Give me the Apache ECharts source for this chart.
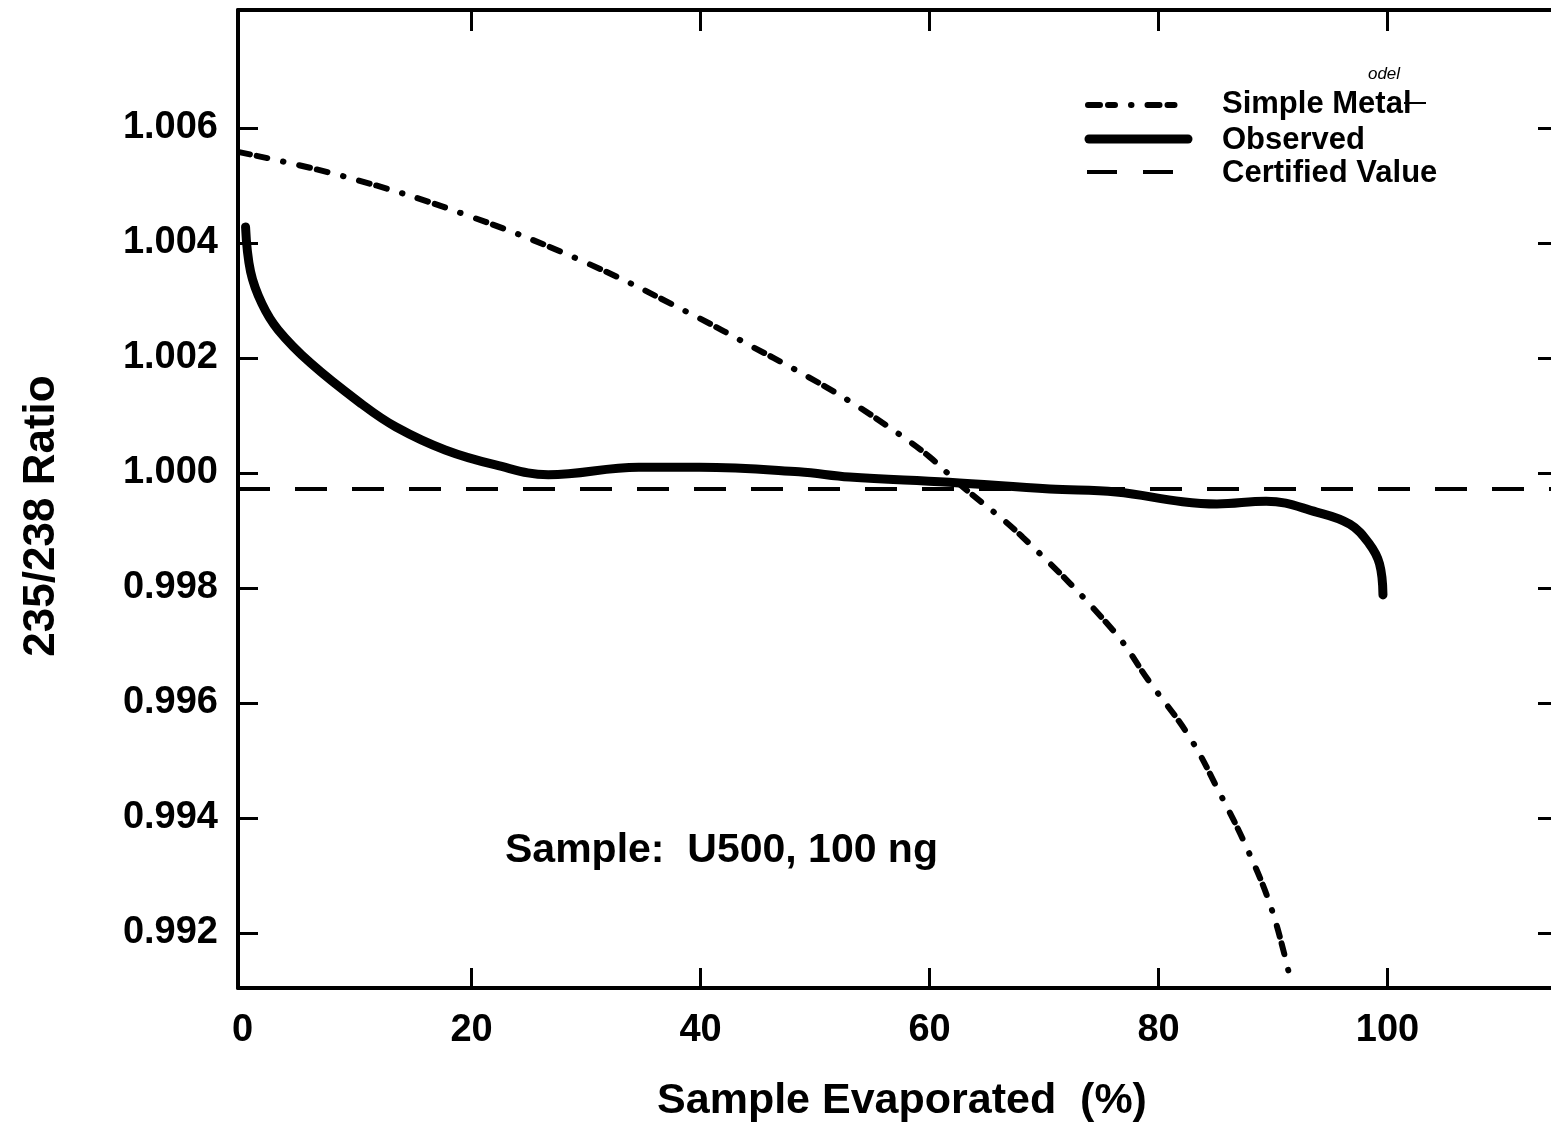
<!DOCTYPE html>
<html>
<head>
<meta charset="utf-8">
<script src="https://cdn.jsdelivr.net/npm/echarts@6/dist/echarts.min.js"></script>
<style>
html,body{margin:0;padding:0;background:#fff;overflow:hidden;}
#chart{width:1551px;height:1131px;}
</style>
</head>
<body>
<div id="chart"></div>
<script>
// ---- data ----
const xTicks = [0, 20, 40, 60, 80, 100];
const yTicks = [0.992, 0.994, 0.996, 0.998, 1.000, 1.002, 1.004, 1.006];

const simpleModelX = [-0.3, 9.0, 19.5, 30.2, 39.9, 44.2, 48.6, 53.0, 57.3, 60.0, 62.6, 68.1, 76.0, 79.2, 82.7, 85.3, 87.8, 89.9, 91.4];
const simpleModelY = [1.00558, 1.00515, 1.00449, 1.00364, 1.00269, 1.00223, 1.00176, 1.00125, 1.00068, 1.00028, 0.99981, 0.99889, 0.99727, 0.99637, 0.99541, 0.99445, 0.99344, 0.99240, 0.99129];

const observedX = [0.26, 0.7, 1.7, 3.1, 6.0, 10.4, 13.4, 17.7, 22.1, 26.7, 34.6, 39.9, 48.6, 53.0, 61.7, 70.5, 76.3, 82.1, 85.1, 89.4, 93.8, 96.7, 98.4, 99.3, 99.6];
const observedY = [1.00428, 1.00350, 1.00294, 1.00249, 1.00190, 1.00120, 1.00080, 1.00040, 1.00014, 0.99997, 1.00010, 1.00010, 1.00002, 0.99993, 0.99984, 0.99972, 0.99967, 0.99950, 0.99946, 0.99951, 0.99932, 0.99911, 0.99877, 0.99842, 0.99788];

const certifiedX = [-0.4, 115.0];
const certifiedY = [0.99972, 0.99972];

const legendNames = ['Simple Metal', 'Observed', 'Certified Value'];
const correctionText = 'odel';
const xTitle = 'Sample Evaporated  (%)';
const yTitle = '235/238 Ratio';
const noteText = 'Sample:  U500, 100 ng';

// ---- chart ----
const X_MIN = -0.4, X_MAX = 114.8;
const Y_MIN = 0.991043, Y_MAX = 1.008052;
const FONT = '"Liberation Sans", Arial, Helvetica, sans-serif';

const zip = (xs, ys) => xs.map((x, i) => [x, ys[i]]);
const chart = echarts.init(document.getElementById('chart'));

const axisLine = { show: true, onZero: false, lineStyle: { color: '#000', width: 4 } };
const tickStyle = { color: '#000', width: 3 };

const option = {
  animation: false,
  backgroundColor: '#fff',
  grid: { left: 238, top: 10, width: 1319, height: 978, containLabel: false, outerBoundsMode: 'none' },
  xAxis: [
    {
      type: 'value', min: X_MIN, max: X_MAX, position: 'bottom',
      axisLine: axisLine,
      axisTick: { show: true, inside: true, length: 20, lineStyle: tickStyle, customValues: xTicks.slice(1) },
      axisLabel: { show: true, customValues: xTicks, margin: 24, color: '#000', fontSize: 38, fontWeight: 'bold', fontFamily: FONT, formatter: v => String(Math.round(v)) },
      splitLine: { show: false }
    },
    {
      type: 'value', min: X_MIN, max: X_MAX, position: 'top',
      axisLine: axisLine,
      axisTick: { show: true, inside: true, length: 21, lineStyle: tickStyle, customValues: xTicks.slice(1) },
      axisLabel: { show: false },
      splitLine: { show: false }
    }
  ],
  yAxis: [
    {
      type: 'value', min: Y_MIN, max: Y_MAX, position: 'left',
      axisLine: axisLine,
      axisTick: { show: true, inside: true, length: 20, lineStyle: tickStyle, customValues: yTicks },
      axisLabel: { show: true, customValues: yTicks, margin: 20, color: '#000', fontSize: 38, fontWeight: 'bold', fontFamily: FONT, formatter: v => v.toFixed(3) },
      splitLine: { show: false }
    },
    {
      type: 'value', min: Y_MIN, max: Y_MAX, position: 'right',
      axisLine: axisLine,
      axisTick: { show: true, inside: true, length: 19, lineStyle: tickStyle, customValues: yTicks },
      axisLabel: { show: false },
      splitLine: { show: false }
    }
  ],
  series: [
    {
      name: legendNames[0], type: 'line', smooth: 0.4, symbol: 'none', xAxisIndex: 0, yAxisIndex: 0,
      lineStyle: { color: '#000', width: 6, type: [11, 7, 11, 16, 0.5, 16], cap: 'round' },
      data: zip(simpleModelX, simpleModelY)
    },
    {
      name: legendNames[1], type: 'line', smooth: 0.4, symbol: 'none', xAxisIndex: 0, yAxisIndex: 0,
      lineStyle: { color: '#000', width: 9, cap: 'round', join: 'round' },
      data: zip(observedX, observedY)
    },
    {
      name: legendNames[2], type: 'line', symbol: 'none', xAxisIndex: 0, yAxisIndex: 0,
      lineStyle: { color: '#000', width: 4, type: [32, 25] },
      data: zip(certifiedX, certifiedY)
    }
  ],
  graphic: [
    // legend
    { type: 'line', shape: { x1: 1088, y1: 105, x2: 1185, y2: 105 }, style: { stroke: '#000', lineWidth: 6, lineDash: [12, 8, 7, 16, 0.5, 16], lineCap: 'round' } },
    { type: 'line', shape: { x1: 1089, y1: 139, x2: 1188, y2: 139 }, style: { stroke: '#000', lineWidth: 9, lineCap: 'round' } },
    { type: 'line', shape: { x1: 1087, y1: 172, x2: 1176, y2: 172 }, style: { stroke: '#000', lineWidth: 4, lineDash: [30, 26] } },
    { type: 'text', x: 1222, y: 104, style: { text: legendNames[0], fill: '#000', font: 'bold 31px ' + FONT, verticalAlign: 'middle', align: 'left' } },
    { type: 'line', shape: { x1: 1404, y1: 103, x2: 1426, y2: 103 }, style: { stroke: '#000', lineWidth: 2 } },
    { type: 'text', x: 1384, y: 74, style: { text: correctionText, fill: '#000', font: 'italic 17px ' + FONT, verticalAlign: 'middle', align: 'center' } },
    { type: 'text', x: 1222, y: 140, style: { text: legendNames[1], fill: '#000', font: 'bold 31px ' + FONT, verticalAlign: 'middle', align: 'left' } },
    { type: 'text', x: 1222, y: 173, style: { text: legendNames[2], fill: '#000', font: 'bold 31px ' + FONT, verticalAlign: 'middle', align: 'left' } },
    // axis titles
    { type: 'text', x: 902, y: 1101, style: { text: xTitle, fill: '#000', font: 'bold 43px ' + FONT, align: 'center', verticalAlign: 'middle' } },
    { type: 'text', x: 42, y: 516, rotation: Math.PI / 2, style: { text: yTitle, fill: '#000', font: 'bold 44px ' + FONT, align: 'center', verticalAlign: 'middle' } },
    // annotation
    { type: 'text', x: 505, y: 851, style: { text: noteText, fill: '#000', font: 'bold 41px ' + FONT, align: 'left', verticalAlign: 'middle' } }
  ]
};
chart.setOption(option);
</script>
</body>
</html>
